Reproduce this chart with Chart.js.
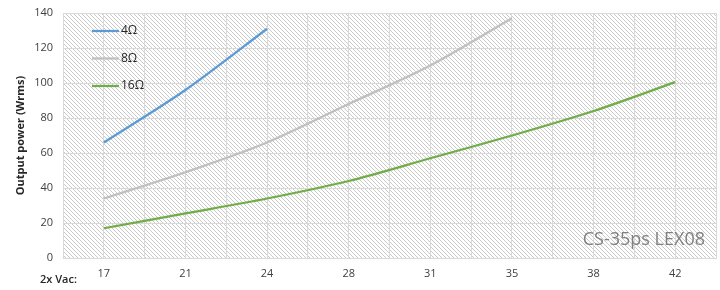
<!DOCTYPE html>
<html>
<head>
<meta charset="utf-8">
<script src="https://cdn.jsdelivr.net/npm/chart.js@4.4.0/dist/chart.umd.min.js"></script>
<style>
  html, body { margin: 0; padding: 0; background: #fff; }
  #wrap { width: 720px; height: 290px; }
</style>
</head>
<body>
<div id="wrap"><canvas id="grafico"></canvas></div>
<script>
const vac = ['17', '21', '24', '28', '31', '35', '38', '42'];
const ohm4 = [66, 96, 131];
const ohm8 = [34, 49, 66, 88, 110, 137];
const ohm16 = [17, 25.5, 34, 44, 57, 70, 84, 100.5];
const yTicks = [0, 20, 40, 60, 80, 100, 120, 140];

// categorias en posiciones impares, rejilla en cada entero
const pts = arr => arr.map((v, i) => ({ x: 2 * i + 1, y: v }));

// trama diagonal pixel a pixel
const tile = document.createElement('canvas');
tile.width = 4; tile.height = 4;
const tc = tile.getContext('2d');
tc.fillStyle = '#c9c9c9';
for (let i = 0; i < 4; i++) tc.fillRect(i, i, 1, 1);

const fondo = {
  id: 'fondo',
  beforeDraw(chart) {
    const { ctx, chartArea: a } = chart;
    ctx.save();
    ctx.fillStyle = ctx.createPattern(tile, 'repeat');
    ctx.fillRect(a.left, a.top, a.right - a.left, a.bottom - a.top);
    ctx.restore();
  },
  afterDraw(chart) {
    const { ctx, chartArea: a } = chart;
    ctx.save();
    // leyenda dentro del area
    chart.data.datasets.forEach((ds, i) => {
      const y = a.top + 18 + i * 27.5;
      ctx.strokeStyle = ds.borderColor; ctx.lineWidth = 2.25;
      ctx.beginPath(); ctx.moveTo(a.left + 29, y); ctx.lineTo(a.left + 56, y); ctx.stroke();
      ctx.fillStyle = '#262626'; ctx.font = '12px "Open Sans"';
      ctx.textBaseline = 'middle'; ctx.textAlign = 'left';
      ctx.fillText(ds.label, a.left + 58, y);
    });
    ctx.fillStyle = '#808080'; ctx.font = '18px "Open Sans"';
    ctx.textAlign = 'right';
    ctx.fillText('CS-35ps LEX08', a.right - 11, a.bottom - 18);
    ctx.fillStyle = '#262626'; ctx.font = '600 11px "Open Sans"';
    ctx.textAlign = 'left';
    ctx.fillText('2x Vac:', 40, 280);
    ctx.restore();
  }
};

const linea = (label, color, data) => ({
  label, data: pts(data), borderColor: color, backgroundColor: color,
  borderWidth: 2.25, pointRadius: 0, tension: 0.3, fill: false
});

new Chart(document.getElementById('grafico'), {
  type: 'line',
  data: {
    datasets: [
      linea('4Ω', '#5b9bd5', ohm4),
      linea('8Ω', '#bfbfbf', ohm8),
      linea('16Ω', '#70ad47', ohm16)
    ]
  },
  options: {
    responsive: true, maintainAspectRatio: false, animation: false,
    layout: { padding: { top: 13, right: 4, left: 0, bottom: 0 } },
    plugins: { legend: { display: false }, tooltip: { enabled: false } },
    scales: {
      x: {
        type: 'linear', min: 0, max: 16,
        afterFit: s => { s.height = 32; s.paddingLeft = 0; s.paddingRight = 0; },
        afterBuildTicks: s => { s.ticks = Array.from({ length: 17 }, (_, i) => ({ value: i })); },
        ticks: {
          autoSkip: false, maxRotation: 0, padding: 9, color: '#404040',
          font: { family: 'Open Sans', size: 11 },
          callback: v => (v % 2 === 1 ? vac[(v - 1) / 2] : '')
        },
        grid: { color: '#d9d9d9', drawTicks: false },
        border: { color: '#d9d9d9' }
      },
      y: {
        min: 0, max: 140,
        afterFit: s => { s.width = 63; s.paddingTop = 0; s.paddingBottom = 0; },
        afterBuildTicks: s => { s.ticks = yTicks.map(v => ({ value: v })); },
        ticks: { padding: 10, color: '#404040', font: { family: 'Open Sans', size: 11 } },
        grid: { color: '#d9d9d9', drawTicks: false },
        border: { color: '#d9d9d9' },
        title: {
          display: true, text: 'Output power (Wrms)', color: '#262626',
          font: { family: 'Open Sans', size: 11, weight: 'bold' }, padding: { top: 14 }
        }
      }
    }
  },
  plugins: [fondo]
});
</script>
</body>
</html>
